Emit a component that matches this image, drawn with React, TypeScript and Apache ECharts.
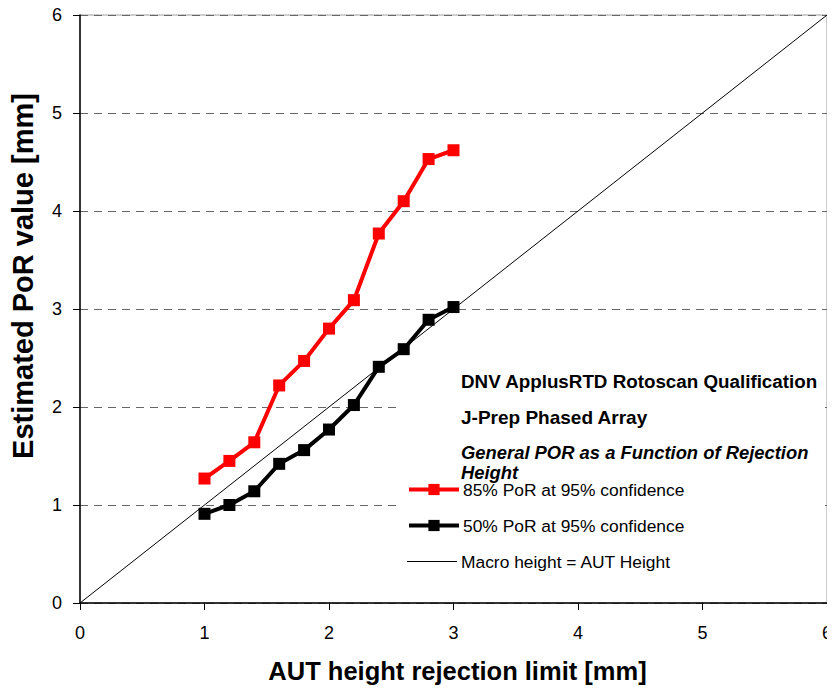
import React, { useEffect, useRef } from "react";
import * as echarts from "echarts";

const xValues = [1.0, 1.2, 1.4, 1.6, 1.8, 2.0, 2.2, 2.4, 2.6, 2.8, 3.0];
const por85 = [1.27, 1.45, 1.64, 2.22, 2.47, 2.8, 3.09, 3.77, 4.1, 4.53, 4.62];
const por50 = [0.91, 1.0, 1.14, 1.42, 1.56, 1.77, 2.02, 2.41, 2.59, 2.89, 3.02];
const diagX = [0, 6];
const diagY = [0, 6];
const seriesNames = [
  "85% PoR at 95% confidence",
  "50% PoR at 95% confidence",
  "Macro height = AUT Height",
];
const boxTitles = [
  "DNV ApplusRTD Rotoscan Qualification",
  "J-Prep Phased Array",
  "General POR as a Function of Rejection\nHeight",
];
const xAxisTitle = "AUT height rejection limit [mm]";
const yAxisTitle = "Estimated PoR value [mm]";

const FONT = "'Liberation Sans', Arial, sans-serif";

export default function App() {
  const ref = useRef<HTMLDivElement>(null);
  useEffect(() => {
    if (!ref.current) return;
    const chart = echarts.init(ref.current, undefined, { renderer: "svg" });
    const pair = (xs: number[], ys: number[]) => xs.map((x, i) => [x, ys[i]]);
    const legendBase = {
      orient: "horizontal",
      left: 407,
      padding: 0,
      itemWidth: 50,
      itemHeight: 14,
      itemGap: 4,
      lineStyle: { width: "inherit" },
      textStyle: { fontSize: 17.4, color: "#000", fontFamily: FONT, padding: [0, 0, 0, -1] },
    };
    chart.setOption({
      animation: false,
      backgroundColor: "#fff",
      grid: {
        left: 78,
        right: 5,
        top: 15,
        bottom: 88,
        show: true,
        borderColor: "#a0a0a0",
        borderWidth: 1,
      },
      xAxis: {
        type: "value",
        min: 0,
        max: 6,
        interval: 1,
        name: xAxisTitle,
        nameLocation: "middle",
        nameGap: 55,
        nameTextStyle: {
          fontSize: 25.5,
          fontWeight: "bold",
          color: "#000",
          fontFamily: FONT,
          padding: [0, 0, 0, 8],
        },
        axisLine: { show: true, lineStyle: { color: "#000", width: 1.5 } },
        axisTick: { show: true, length: 7, lineStyle: { color: "#000" } },
        axisLabel: { fontSize: 18, color: "#000", margin: 21, fontFamily: FONT },
        splitLine: { show: false },
      },
      yAxis: {
        type: "value",
        min: 0,
        max: 6,
        interval: 1,
        name: yAxisTitle,
        nameLocation: "middle",
        nameGap: 43,
        nameTextStyle: {
          fontSize: 29,
          fontWeight: "bold",
          color: "#000",
          fontFamily: FONT,
          padding: [0, 0, 0, 66],
        },
        axisLine: { show: true, lineStyle: { color: "#000", width: 1.5 } },
        axisTick: { show: true, length: 7, lineStyle: { color: "#000" } },
        axisLabel: { fontSize: 18, color: "#000", margin: 18, fontFamily: FONT },
        splitLine: {
          show: true,
          lineStyle: { color: "#666", type: [8, 6], width: 1 },
        },
      },
      legend: [
        { ...legendBase, data: [seriesNames[0]], top: 481 },
        { ...legendBase, data: [seriesNames[1]], top: 517 },
        {
          ...legendBase,
          data: [seriesNames[2]],
          top: 553,
          icon: "rect",
          itemHeight: 1,
        },
      ],
      graphic: [
        {
          type: "rect",
          z: 1,
          shape: { x: 397, y: 360, width: 428, height: 225 },
          style: { fill: "#fff" },
        },
        {
          type: "text",
          z: 10,
          left: 461,
          top: 372,
          style: {
            text: boxTitles[0],
            fontSize: 18.8,
            fontWeight: "bold",
            fill: "#000",
            fontFamily: FONT,
          },
        },
        {
          type: "text",
          z: 10,
          left: 461,
          top: 408,
          style: {
            text: boxTitles[1],
            fontSize: 19,
            fontWeight: "bold",
            fill: "#000",
            fontFamily: FONT,
          },
        },
        {
          type: "text",
          z: 10,
          left: 461,
          top: 442,
          style: {
            text: boxTitles[2],
            fontSize: 18.4,
            fontWeight: "bold",
            fontStyle: "italic",
            lineHeight: 20,
            fill: "#000",
            fontFamily: FONT,
          },
        },
      ],
      series: [
        {
          name: seriesNames[2],
          type: "line",
          data: pair(diagX, diagY),
          showSymbol: false,
          symbol: "none",
          lineStyle: { color: "#000", width: 1 },
          itemStyle: { color: "#000" },
          z: 2,
        },
        {
          name: seriesNames[0],
          type: "line",
          data: pair(xValues, por85),
          symbol: "rect",
          symbolSize: 12,
          lineStyle: { color: "#ff0000", width: 4 },
          itemStyle: { color: "#ff0000" },
          z: 3,
        },
        {
          name: seriesNames[1],
          type: "line",
          data: pair(xValues, por50),
          symbol: "rect",
          symbolSize: 12,
          lineStyle: { color: "#000", width: 4 },
          itemStyle: { color: "#000" },
          z: 4,
        },
      ],
    });
    return () => chart.dispose();
  }, []);
  return <div ref={ref} style={{ width: 835, height: 691, marginLeft: -8, marginTop: -8 }} />;
}
